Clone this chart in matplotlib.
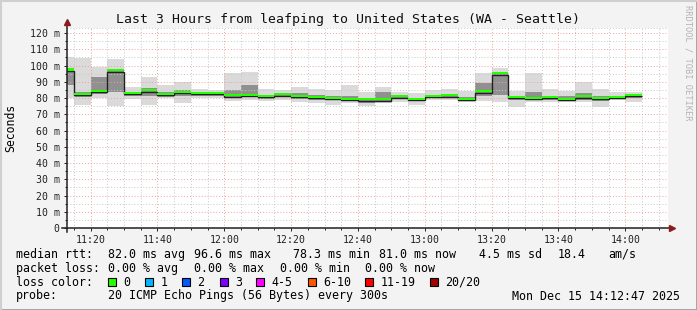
import matplotlib
matplotlib.use("Agg")
import matplotlib.pyplot as plt
import matplotlib.dates as mdates
from matplotlib.ticker import MultipleLocator, FuncFormatter
from matplotlib.lines import Line2D
from matplotlib.patches import Rectangle
import pandas as pd

plt.rcParams['font.family'] = 'DejaVu Sans Mono'

title = "Last 3 Hours from leafping to United States (WA - Seattle)"
window_start = pd.Timestamp("2025-12-15 11:12:47")
window_end = pd.Timestamp("2025-12-15 14:12:47")
# end of each 5 minute step (the first one is cut by the window start)
step_end = pd.date_range("2025-12-15 11:15", "2025-12-15 14:05", freq="5min")

# round trip times in ms
median = [96.7, 81.8, 83.5, 96.2, 82.3, 83.9, 81.8, 82.9, 82.5, 82.5,
          80.8, 81.2, 80.4, 81.4, 80.4, 79.8, 79.4, 78.8, 78.3, 78.4,
          80.2, 78.8, 80.4, 80.8, 78.8, 83.3, 94.4, 79.8, 79.4, 79.8,
          78.8, 80.2, 79.4, 79.8, 81.0]
ping_min = [80.0, 75.7, 79.8, 75.0, 79.2, 75.7, 79.8, 77.0, 79.8, 79.8,
            78.4, 78.8, 78.4, 78.8, 77.7, 76.7, 75.7, 76.7, 75.0, 76.7,
            77.7, 75.7, 78.8, 78.8, 77.7, 78.4, 77.7, 74.2, 77.7, 77.7,
            77.7, 77.7, 74.7, 78.8, 77.7]
ping_max = [105.0, 104.6, 98.9, 103.8, 87.0, 93.1, 88.0, 90.0, 85.3, 84.9,
            95.6, 96.2, 85.3, 84.9, 87.0, 85.5, 84.9, 88.0, 83.9, 86.6,
            83.9, 82.9, 84.9, 85.3, 84.5, 95.2, 98.3, 84.5, 95.2, 85.3,
            84.5, 90.0, 85.3, 83.9, 83.9]
ping_q1 = [88.0, 80.5, 82.5, 84.0, 81.0, 81.5, 80.8, 81.5, 81.5, 81.5,
           80.0, 80.5, 79.5, 80.5, 79.5, 79.0, 78.5, 78.0, 77.0, 77.8,
           79.2, 78.0, 79.8, 80.0, 78.3, 81.0, 82.0, 78.5, 78.5, 79.0,
           78.3, 79.0, 78.0, 79.3, 80.0]
ping_q3 = [98.0, 84.0, 93.0, 97.0, 83.5, 86.0, 83.5, 85.0, 83.5, 83.5,
           85.0, 88.0, 82.0, 82.5, 83.0, 82.0, 81.5, 81.0, 80.0, 84.0,
           81.5, 80.0, 81.5, 82.0, 80.5, 89.0, 96.0, 81.5, 84.0, 81.5,
           81.0, 83.0, 81.5, 81.0, 82.5]

stats_rtt = ["82.0 ms avg", "96.6 ms max", "78.3 ms min", "81.0 ms now",
             "4.5 ms sd", "18.4", "am/s"]
stats_loss = ["0.00 % avg", "0.00 % max", "0.00 % min", "0.00 % now"]
loss_labels = ["0", "1", "2", "3", "4-5", "6-10", "11-19", "20/20"]
loss_colors = ["#26ff00", "#00b8ff", "#0059ff", "#7e00ff", "#ff00ff",
               "#ff5500", "#ff0000", "#a10000"]
probe_text = "20 ICMP Echo Pings (56 Bytes) every 300s"
stamp = "Mon Dec 15 14:12:47 2025"

W, H = 697, 310
fig = plt.figure(figsize=(W / 100, H / 100), dpi=100, facecolor="#f3f3f3")
ax = fig.add_axes([66.5 / W, 1 - 228 / H, (668 - 66.5) / W, 200 / H])
ax.set_facecolor("white")

edges = list(step_end - pd.Timedelta("5min")) + [step_end[-1]]
edges = mdates.date2num(edges)

# smoke
ax.stairs(ping_max, edges, baseline=ping_min, fill=True, color="#dadada", lw=0, zorder=1)
ax.stairs(ping_q3, edges, baseline=ping_q1, fill=True, color="#909090", lw=0, zorder=1.1)
# median line, coloured by loss
ax.stairs(median, edges, baseline=None, color="#202020", lw=1.0, zorder=2)
med_top = [m + 1.5 for m in median]
med_bot = [m + 0.2 for m in median]
ax.stairs(med_top, edges, baseline=med_bot, fill=True, color=loss_colors[0], lw=0, zorder=2.1)

ax.set_xlim(mdates.date2num(window_start), mdates.date2num(window_end))
ax.set_ylim(0, 123.1)

ax.xaxis.set_major_locator(mdates.MinuteLocator(byminute=[0, 20, 40]))
ax.xaxis.set_minor_locator(mdates.MinuteLocator(byminute=range(0, 60, 5)))
ax.xaxis.set_major_formatter(mdates.DateFormatter("%H:%M"))
ax.yaxis.set_major_locator(MultipleLocator(10))
ax.yaxis.set_minor_locator(MultipleLocator(5))
ax.yaxis.set_major_formatter(FuncFormatter(lambda v, p: "0" if v == 0 else f"{v:.0f} m"))

ax.grid(which="minor", color="#c8c8c8", lw=0.7, linestyle=(0, (1, 2)), zorder=3)
ax.grid(which="major", color="#f2a0a0", lw=0.7, linestyle=(0, (1, 2)), zorder=3)
ax.axhline(123.1, color="#c8c8c8", lw=0.7, linestyle=(0, (1, 2)))

for s in ax.spines.values():
    s.set_visible(False)
ax.tick_params(which="both", labelsize=7.1, colors="#202020", length=2.5, width=0.7, pad=2.4)
ax.tick_params(which="minor", length=1.5)

# axes with arrows
ax.plot([-0.007, 1.004], [0, 0], color="#202020", lw=1.1, transform=ax.transAxes, clip_on=False, zorder=5)
ax.plot([0, 0], [-0.02, 1.02], color="#202020", lw=1.1, transform=ax.transAxes, clip_on=False, zorder=5)
ax.plot(1.006, 0, marker=">", color="#8b1a1a", ms=4, transform=ax.transAxes, clip_on=False, zorder=6)
ax.plot(0, 1.028, marker="^", color="#8b1a1a", ms=4, transform=ax.transAxes, clip_on=False, zorder=6)

def fy(y):
    return 1 - y / H

def fx(x):
    return x / W

fig.text(fx(347.5), fy(19.3), title, ha="center", va="center", fontsize=9.5, color="#101010")
fig.text(fx(11), fy(128), "Seconds", rotation=90, ha="center", va="center", fontsize=8.3)
fig.text(fx(688), fy(5), "RRDTOOL / TOBI OETIKER", rotation=270, ha="center", va="top",
         fontsize=6.3, color="#b4b4b4")

fs = 8.4
row = [254.3, 268.3, 282.3, 296.0]
fig.text(fx(16), fy(row[0]), "median rtt:", va="center", fontsize=fs)
for x, s in zip([107.6, 194.2, 293.3, 379, 479, 557.8, 608], stats_rtt):
    fig.text(fx(x), fy(row[0]), s, va="center", fontsize=fs)
fig.text(fx(16), fy(row[1]), "packet loss:", va="center", fontsize=fs)
for x, s in zip([107.6, 194.2, 280, 365.3], stats_loss):
    fig.text(fx(x), fy(row[1]), s, va="center", fontsize=fs)
fig.text(fx(16), fy(row[2]), "loss color:", va="center", fontsize=fs)
box_x = [108.4, 145.3, 182.2, 219.6, 256.4, 307.6, 365.3, 430.2]
for x, lab, c in zip(box_x, loss_labels, loss_colors):
    fig.add_artist(Rectangle((fx(x), fy(row[2] + 4)), 8 / W, 8 / H, transform=fig.transFigure,
                             facecolor=c, edgecolor="black", lw=0.8))
    fig.text(fx(x + 15.2), fy(row[2]), lab, va="center", fontsize=fs)
fig.text(fx(16), fy(row[3]), "probe:", va="center", fontsize=fs)
fig.text(fx(107.6), fy(row[3]), probe_text, va="center", fontsize=fs)
fig.text(fx(680), fy(row[3]), stamp, ha="right", va="center", fontsize=fs)

# frame
fig.add_artist(Line2D([0, 1], [0.5 / H, 0.5 / H], color="#9e9e9e", lw=2, transform=fig.transFigure))
fig.add_artist(Line2D([1 - 0.5 / W, 1 - 0.5 / W], [0, 1], color="#9e9e9e", lw=2, transform=fig.transFigure))
fig.add_artist(Line2D([0, 1], [1 - 0.5 / H, 1 - 0.5 / H], color="#cfcfcf", lw=1.5, transform=fig.transFigure))
fig.add_artist(Line2D([0.5 / W, 0.5 / W], [0, 1], color="#cfcfcf", lw=1.5, transform=fig.transFigure))

fig.savefig("out.png", dpi=100, facecolor=fig.get_facecolor())
